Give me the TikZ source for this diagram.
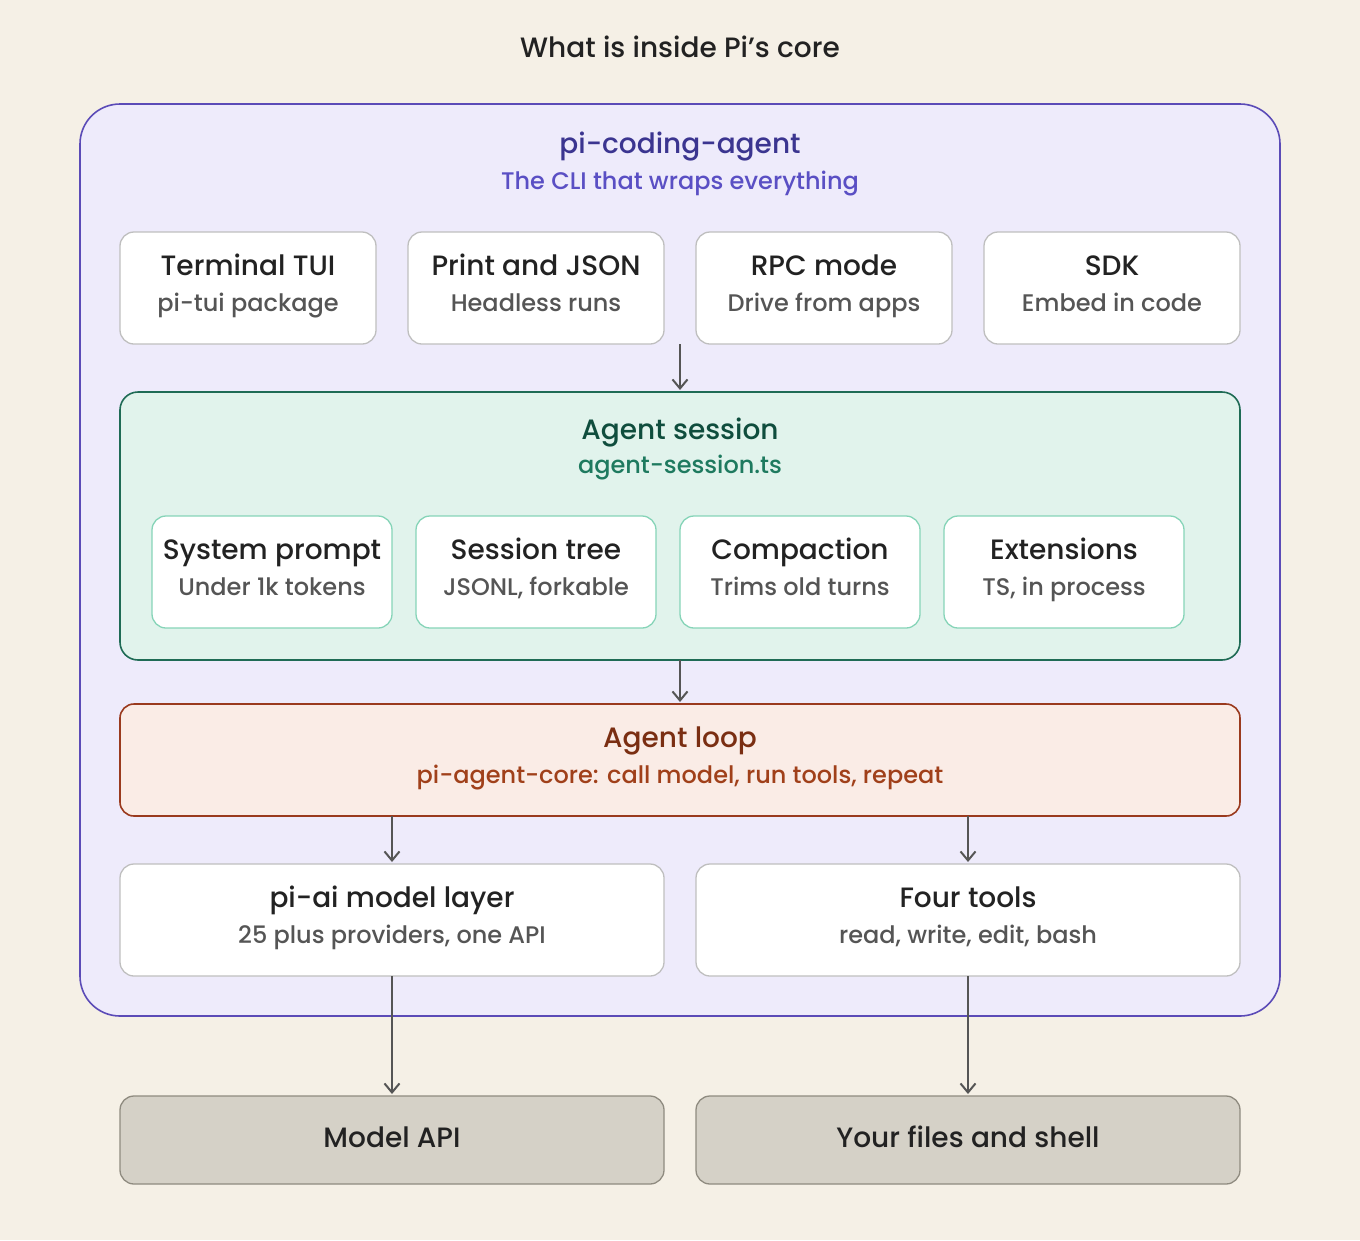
\documentclass[tikz,border=0pt]{standalone}
\usepackage{fontspec}
\setmainfont{Poppins}[UprightFont={* Medium}]
\usetikzlibrary{arrows.meta}
\definecolor{bg}{HTML}{F5F0E6}
\definecolor{outerF}{HTML}{EEEBFB}
\definecolor{outerD}{HTML}{5B4BB7}
\definecolor{outerT}{HTML}{3B3590}
\definecolor{outerS}{HTML}{5A4FC4}
\definecolor{sesF}{HTML}{E1F3EC}
\definecolor{sesD}{HTML}{1F6B55}
\definecolor{sesT}{HTML}{0F4D3D}
\definecolor{sesS}{HTML}{1E7A5F}
\definecolor{sesB}{HTML}{86D4B8}
\definecolor{loopF}{HTML}{FAECE6}
\definecolor{loopD}{HTML}{9A3A1E}
\definecolor{loopT}{HTML}{7A2E12}
\definecolor{loopS}{HTML}{A0401A}
\definecolor{extF}{HTML}{D5D1C7}
\definecolor{extD}{HTML}{8F8B80}
\definecolor{ink}{HTML}{222222}
\definecolor{subg}{HTML}{555555}
\definecolor{arr}{HTML}{555555}
\tikzset{
 big/.style={font=\fontsize{28}{32}\selectfont, text height=20pt, text depth=6pt, inner sep=0pt},
 small/.style={font=\fontsize{24}{28}\selectfont, text height=17pt, text depth=5pt, inner sep=0pt},
 ar/.style={draw=arr, line width=2pt, -{Straight Barb[length=9pt,width=15pt]}},
}
\begin{document}
\begin{tikzpicture}[x=1pt,y=-1pt]
\fill[bg] (0,0) rectangle (1360,1240);
\useasboundingbox (0,0) rectangle (1360,1240);
\node[big,text=ink] (title) at (680,50) {What is inside Pi{\char"0027}s core};
% outer
\draw[fill=outerF,draw=outerD,line width=1.6pt,rounded corners=40pt] (80,104) rectangle (1280,1016);
\node[big,text=outerT] (otit) at (680,146) {pi-coding-agent};
\node[small,text=outerS] (osub) at (680,183) {The CLI that wraps everything};
% four top boxes
\foreach \n/\x/\t/\s in {tui/120/Terminal TUI/pi-tui package, pj/408/Print and JSON/Headless runs, rpc/696/RPC mode/Drive from apps, sdk/984/SDK/Embed in code}{
 \draw[fill=white,draw=black!25,line width=1.3pt,rounded corners=14pt] (\x,232) rectangle ++(256,112);
 \node[big,text=ink] (\n) at (\x+128,268) {\t};
 \node[small,text=subg] (\n s) at (\x+128,305) {\s};
}
\coordinate (a1) at (680,344);
\coordinate (a2) at (680,390);
\draw[ar] (a1) -- (a2);
% session
\draw[fill=sesF,draw=sesD,line width=1.6pt,rounded corners=18pt] (120,392) rectangle (1240,660);
\node[big,text=sesT] (ses) at (680,432) {Agent session};
\node[small,text=sesS] (sess) at (680,467) {agent-session.ts};
\foreach \n/\x/\t/\s in {sp/152/System prompt/Under 1k tokens, st/416/Session tree/{JSONL, forkable}, cp/680/Compaction/Trims old turns, ex/944/Extensions/{TS, in process}}{
 \draw[fill=white,draw=sesB,line width=1.3pt,rounded corners=14pt] (\x,516) rectangle ++(240,112);
 \node[big,text=ink] (\n) at (\x+120,552) {\t};
 \node[small,text=subg] (\n s) at (\x+120,589) {\s};
}
\coordinate (b1) at (680,660);
\coordinate (b2) at (680,702);
\draw[ar] (b1) -- (b2);
% loop
\draw[fill=loopF,draw=loopD,line width=1.6pt,rounded corners=14pt] (120,704) rectangle (1240,816);
\node[big,text=loopT] (loop) at (680,740) {Agent loop};
\node[small,text=loopS] (loops) at (680,777) {pi-agent-core: call model, run tools, repeat};
\coordinate (c1) at (392,816); \coordinate (c2) at (392,862);
\coordinate (d1) at (968,816); \coordinate (d2) at (968,862);
\draw[ar] (c1) -- (c2);
\draw[ar] (d1) -- (d2);
% lower boxes
\draw[fill=white,draw=black!25,line width=1.3pt,rounded corners=14pt] (120,864) rectangle (664,976);
\node[big,text=ink] (ai) at (392,900) {pi-ai model layer};
\node[small,text=subg] (ais) at (392,937) {25 plus providers, one API};
\draw[fill=white,draw=black!25,line width=1.3pt,rounded corners=14pt] (696,864) rectangle (1240,976);
\node[big,text=ink] (ft) at (968,900) {Four tools};
\node[small,text=subg] (fts) at (968,937) {read, write, edit, bash};
\coordinate (e1) at (392,976); \coordinate (e2) at (392,1094);
\coordinate (f1) at (968,976); \coordinate (f2) at (968,1094);
\draw[ar] (e1) -- (e2);
\draw[ar] (f1) -- (f2);
% externals
\draw[fill=extF,draw=extD,line width=1.3pt,rounded corners=14pt] (120,1096) rectangle (664,1184);
\node[big,text=ink] (mapi) at (392,1140) {Model API};
\draw[fill=extF,draw=extD,line width=1.3pt,rounded corners=14pt] (696,1096) rectangle (1240,1184);
\node[big,text=ink] (files) at (968,1140) {Your files and shell};
\end{tikzpicture}
\end{document}
